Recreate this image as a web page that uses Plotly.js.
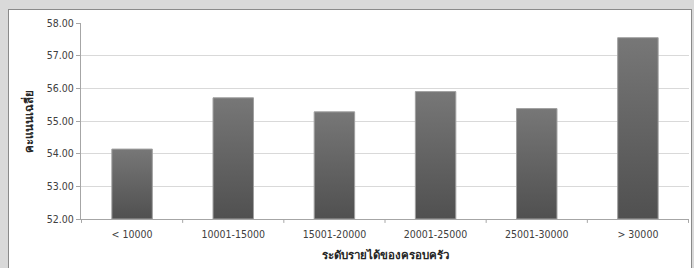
<!DOCTYPE html>
<html><head><meta charset="utf-8">
<script src="https://cdn.plot.ly/plotly-3.0.1.min.js"></script>
<style>
html,body{margin:0;padding:0;background:#d9d9d9;width:694px;height:268px;overflow:hidden;}
#panel{position:absolute;left:8px;top:9px;width:684px;height:262px;background:#fff;border:1px solid #8a8a8a;box-sizing:border-box;}
#chart{position:absolute;left:0;top:0;width:694px;height:268px;}
</style></head><body>
<div id="panel"></div>
<div id="chart"></div>
<script>
const categories = ["< 10000", "10001-15000", "15001-20000", "20001-25000", "25001-30000", "> 30000"];
const meanScores = [54.14, 55.71, 55.28, 55.90, 55.38, 57.55];
const yTickValues = [52, 53, 54, 55, 56, 57, 58];
const yTickLabels = ["52.00", "53.00", "54.00", "55.00", "56.00", "57.00", "58.00"];
const xTitle = "ระดับรายได้ของครอบครัว";
const yTitle = "คะแนนเฉลี่ย";
const axisBase = 52;

const fontFam = "Tahoma, 'DejaVu Sans Condensed', 'DejaVu Sans', sans-serif";

const trace = {
  type: "bar",
  x: categories,
  y: meanScores.map(v => v - axisBase),
  base: axisBase,
  marker: {color: "#666666", line: {color: "#a0a0a0", width: 1}},
  width: 0.4,
  hoverinfo: "x+y"
};

const layout = {
  width: 694, height: 268,
  margin: {l: 81, r: 5, t: 23, b: 49},
  paper_bgcolor: "rgba(0,0,0,0)",
  plot_bgcolor: "rgba(0,0,0,0)",
  showlegend: false,
  font: {family: fontFam, size: 10, color: "#404040"},
  xaxis: {
    type: "category",
    showgrid: false,
    showline: true, linecolor: "#a6a6a6", linewidth: 1,
    ticks: "", ticklabelstandoff: 5, tickfont: {size: 10.5, color: "#404040"},
    title: {text: xTitle, font: {size: 11.5, color: "#262626", family: fontFam, weight: "bold"}, standoff: 12},
    zeroline: false
  },
  yaxis: {
    range: [52, 58],
    tickvals: yTickValues, ticktext: yTickLabels,
    showgrid: true, gridcolor: "#d9d9d9", gridwidth: 1,
    showline: true, linecolor: "#a6a6a6", linewidth: 1,
    ticks: "outside", ticklen: 4, tickcolor: "#a6a6a6",
    tickfont: {size: 10.5, color: "#404040"},
    title: {text: yTitle, font: {size: 11.5, color: "#262626", family: fontFam, weight: "bold"}, standoff: 10},
    zeroline: false
  },
  shapes: []
};

// category boundary tick marks on the x axis
for (let i = 0; i <= categories.length; i++) {
  layout.shapes.push({type: "line", xref: "x", yref: "paper", x0: i - 0.5, x1: i - 0.5, y0: 0, y1: -0.02, line: {color: "#a6a6a6", width: 1}});
}

Plotly.newPlot("chart", [trace], layout, {displayModeBar: false, staticPlot: true}).then(gd => {
  const svg = gd.querySelector("svg.main-svg");
  const ns = "http://www.w3.org/2000/svg";
  let defs = svg.querySelector("defs");
  const lg = document.createElementNS(ns, "linearGradient");
  lg.setAttribute("id", "barGrad");
  lg.setAttribute("x1", "0"); lg.setAttribute("y1", "0");
  lg.setAttribute("x2", "0"); lg.setAttribute("y2", "1");
  [["0%", "#777777"], ["100%", "#505050"]].forEach(([o, c]) => {
    const s = document.createElementNS(ns, "stop");
    s.setAttribute("offset", o); s.setAttribute("stop-color", c);
    lg.appendChild(s);
  });
  defs.appendChild(lg);
  gd.querySelectorAll(".barlayer .point path").forEach(p => { p.style.fill = "url(#barGrad)"; });
});
</script>
</body></html>
